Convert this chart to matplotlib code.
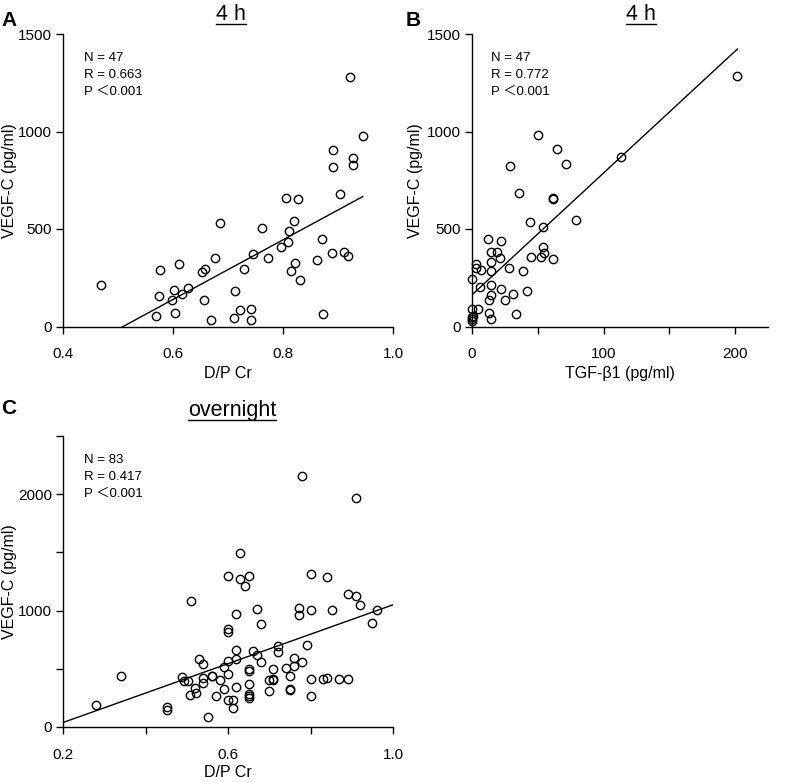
import matplotlib
matplotlib.use('Agg')
import matplotlib.pyplot as plt
from matplotlib.lines import Line2D
from matplotlib.ticker import MultipleLocator, FixedLocator, FormatStrFormatter
import numpy as np

plt.rcParams['font.family'] = ['Liberation Sans', 'DejaVu Sans', 'Noto Sans CJK JP']

# panel A: 4 h, D/P Cr vs VEGF-C
a_dpcr = [0.470, 0.576, 0.611, 0.575, 0.602, 0.598, 0.617, 0.627, 0.570, 0.603,
          0.657, 0.670, 0.652, 0.659, 0.677, 0.685, 0.921, 0.945, 0.890, 0.890,
          0.927, 0.927, 0.904, 0.805, 0.828, 0.761, 0.820, 0.811, 0.809, 0.796,
          0.745, 0.772, 0.871, 0.861, 0.889, 0.910, 0.919, 0.730, 0.821, 0.815,
          0.830, 0.712, 0.721, 0.741, 0.711, 0.741, 0.873]
a_vegf = [215, 289, 321, 158, 189, 137, 167, 197, 52, 69,
          136, 35, 280, 296, 349, 533, 1280, 979, 907, 820,
          866, 830, 682, 658, 655, 505, 541, 490, 435, 406,
          373, 352, 447, 342, 378, 381, 359, 296, 326, 284,
          239, 180, 86, 88, 46, 35, 63]

# panel B: 4 h, TGF-beta1 vs VEGF-C
b_tgf = [49.8, 64.5, 71.1, 28.7, 35.8, 61.2, 61.9, 79.1, 54.3, 44.1,
         12.2, 22.4, 14.2, 19.0, 21.3, 14.7, 53.6, 54.8, 52.3, 61.2,
         44.7, 3.3, 3.3, 6.8, 14.7, 28.2, 38.8, 0.0, 5.9, 14.2,
         22.4, 41.9, 31.0, 24.9, 14.2, 12.7, 13.2, 33.5, 14.5, 0.0,
         4.3, 0.0, 0.0, 0.0, 113.2, 201.7, 1.0]
b_vegf = [982, 910, 832, 822, 685, 659, 656, 544, 509, 535,
          451, 437, 380, 382, 351, 329, 410, 375, 358, 346,
          355, 321, 300, 290, 286, 300, 283, 243, 204, 214,
          192, 183, 166, 137, 161, 138, 71, 66, 37, 92,
          89, 49, 37, 29, 869, 1283, 55]

# panel C: overnight, D/P Cr vs VEGF-C
c_dpcr = [0.281, 0.340, 0.451, 0.451, 0.488, 0.493, 0.502, 0.511, 0.530, 0.540,
          0.521, 0.509, 0.522, 0.540, 0.540, 0.560, 0.570, 0.551, 0.580, 0.590,
          0.590, 0.780, 0.910, 0.630, 0.600, 0.630, 0.650, 0.640, 0.800, 0.840,
          0.890, 0.910, 0.921, 0.960, 0.950, 0.771, 0.771, 0.800, 0.851, 0.670,
          0.620, 0.680, 0.600, 0.600, 0.791, 0.721, 0.721, 0.620, 0.620, 0.660,
          0.670, 0.680, 0.600, 0.600, 0.600, 0.611, 0.611, 0.620, 0.650, 0.650,
          0.650, 0.650, 0.650, 0.650, 0.700, 0.700, 0.710, 0.710, 0.741, 0.751,
          0.761, 0.761, 0.779, 0.750, 0.750, 0.800, 0.800, 0.830, 0.840, 0.870,
          0.890, 0.710, 0.560]
c_vegf = [192, 435, 175, 149, 430, 395, 395, 1080, 587, 545,
          335, 278, 292, 424, 381, 435, 266, 89, 407, 515,
          326, 2156, 1967, 1492, 1294, 1271, 1294, 1211, 1314, 1286,
          1140, 1125, 1051, 1002, 893, 1022, 960, 1002, 1002, 1011,
          974, 888, 839, 819, 708, 696, 642, 659, 584, 653,
          616, 558, 567, 455, 235, 235, 167, 344, 496, 480,
          367, 287, 266, 252, 307, 401, 401, 496, 504, 438,
          596, 521, 558, 330, 315, 410, 264, 410, 421, 416,
          416, 410, 440]

stats_a = ['N = 47', 'R = 0.663', 'P \uff1c0.001']
stats_b = ['N = 47', 'R = 0.772', 'P \uff1c0.001']
stats_c = ['N = 83', 'R = 0.417', 'P \uff1c0.001']

W, H = 802, 782
fig = plt.figure(figsize=(W / 100, H / 100), dpi=100)


def box(left, top, right, bottom):
    return [left / W, 1 - bottom / H, (right - left) / W, (bottom - top) / H]


def style(ax):
    for s in ['top', 'right']:
        ax.spines[s].set_visible(False)
    for s in ['left', 'bottom']:
        ax.spines[s].set_linewidth(1.0)
    ax.tick_params(which='both', direction='out', length=5, width=1.0, labelsize=11)
    ax.tick_params(axis='x', which='both', pad=10)
    ax.tick_params(axis='y', which='both', pad=3)


def panel(ax, x, y, stats, label_x, line_x=None):
    ax.plot(x, y, 'o', ms=6, mfc='none', mec='black', mew=1.0, clip_on=False)
    k, b = np.polyfit(x, y, 1)
    if line_x is None:
        line_x = [min(x), max(x)]
    line_x = np.array(line_x)
    ax.plot(line_x, k * line_x + b, color='black', lw=1.0)
    for i, s in enumerate(stats):
        ax.text(0.064, 0.918 - i * 0.058, s, transform=ax.transAxes,
                ha='left', va='center', fontsize=9.5)
    ax.set_ylabel('VEGF-C (pg/ml)', fontsize=11.5)
    ax.yaxis.set_label_coords(label_x, 0.5)


def underlined(x_px, y_px, s):
    t = fig.text(x_px / W, 1 - y_px / H, s, ha='center', va='baseline', fontsize=15.5)
    fig.canvas.draw()
    bb = t.get_window_extent().transformed(fig.transFigure.inverted())
    yl = 1 - (y_px + 3.5) / H
    fig.add_artist(Line2D([bb.x0, bb.x1], [yl, yl], transform=fig.transFigure,
                          color='black', lw=1.0))


ax_a = fig.add_axes(box(63, 34, 393, 326.5))
style(ax_a)
panel(ax_a, a_dpcr, a_vegf, stats_a, -0.138)
ax_a.set_xlim(0.4, 1.0)
ax_a.set_ylim(0, 1500)
ax_a.xaxis.set_major_locator(MultipleLocator(0.2))
ax_a.xaxis.set_major_formatter(FormatStrFormatter('%.1f'))
ax_a.yaxis.set_major_locator(MultipleLocator(500))
ax_a.set_xlabel('D/P Cr', fontsize=11.5, labelpad=3)

ax_b = fig.add_axes(box(472, 34, 768, 326.5))
style(ax_b)
panel(ax_b, b_tgf, b_vegf, stats_b, -0.165)
ax_b.set_xlim(0, 225)
ax_b.set_ylim(0, 1500)
ax_b.xaxis.set_major_locator(MultipleLocator(100))
ax_b.xaxis.set_minor_locator(MultipleLocator(50))
ax_b.yaxis.set_major_locator(MultipleLocator(500))
ax_b.set_xlabel('TGF-\u03b21 (pg/ml)', fontsize=11.5, labelpad=3)

ax_c = fig.add_axes(box(63, 436, 393, 727))
style(ax_c)
panel(ax_c, c_dpcr, c_vegf, stats_c, -0.138, line_x=[0.2, 1.0])
ax_c.set_xlim(0.2, 1.0)
ax_c.set_ylim(0, 2500)
ax_c.xaxis.set_major_locator(FixedLocator([0.2, 0.6, 1.0]))
ax_c.xaxis.set_minor_locator(FixedLocator([0.4, 0.8]))
ax_c.xaxis.set_major_formatter(FormatStrFormatter('%.1f'))
ax_c.yaxis.set_major_locator(MultipleLocator(1000))
ax_c.yaxis.set_minor_locator(MultipleLocator(500))
ax_c.set_xlabel('D/P Cr', fontsize=11.5, labelpad=2)

for letter, x_px, y_px in [('A', 9, 20), ('B', 413, 20), ('C', 9, 408)]:
    fig.text(x_px / W, 1 - y_px / H, letter, ha='center', va='center',
             fontsize=15, fontweight='bold')

underlined(231, 20, '4 h')
underlined(641, 20, '4 h')
underlined(232, 416, 'overnight')

fig.savefig('out.png', dpi=100)
